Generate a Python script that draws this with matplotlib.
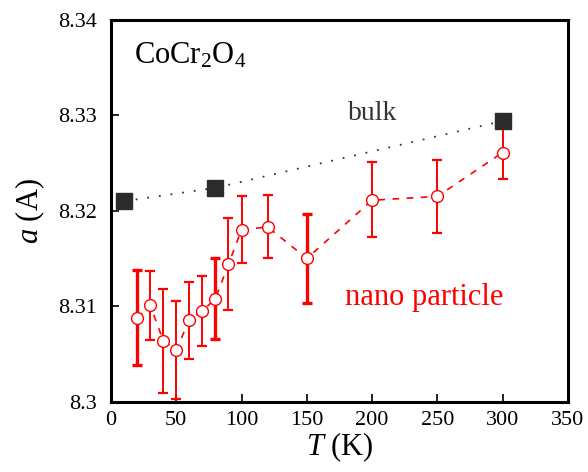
import matplotlib
matplotlib.use("Agg")
import matplotlib.pyplot as plt
import numpy as np

plt.rcParams['font.family'] = ['Liberation Serif', 'DejaVu Serif']
plt.rcParams['mathtext.fontset'] = 'custom'
plt.rcParams['mathtext.rm'] = 'Liberation Serif'
plt.rcParams['mathtext.it'] = 'Liberation Serif:italic'

# bulk data
bulk_T = [10, 80, 300]
bulk_a = [8.3210, 8.3224, 8.3294]

# nano particle data
nano_T = [20, 30, 40, 50, 60, 70, 80, 90, 100, 120, 150, 200, 250, 300]
nano_a = [8.3088, 8.3101, 8.3064, 8.3054, 8.3086, 8.3095, 8.3108, 8.3144,
          8.3180, 8.3183, 8.3150, 8.3211, 8.3215, 8.3261]
nano_err_lo = [0.0050, 0.0036, 0.0055, 0.0051, 0.0041, 0.0037, 0.0042, 0.0048,
               0.0035, 0.0032, 0.0047, 0.0039, 0.0038, 0.0028]
nano_err_hi = [0.0050, 0.0036, 0.0054, 0.0051, 0.0039, 0.0037, 0.0043, 0.0048,
               0.0035, 0.0033, 0.0047, 0.0040, 0.0038, 0.0028]
thick = [True, False, False, False, False, False, True, False,
         False, False, True, False, False, False]

xticks = [0, 50, 100, 150, 200, 250, 300, 350]
yticks = [8.30, 8.31, 8.32, 8.33, 8.34]
ytick_labels = ['8.3', '8.31', '8.32', '8.33', '8.34']

fig = plt.figure(figsize=(5.88, 4.72), dpi=100)
ax = fig.add_axes([0.1888, 0.149, 0.777, 0.809])

red = '#ff0000'
# error bars
for T, a, lo, hi, th in zip(nano_T, nano_a, nano_err_lo, nano_err_hi, thick):
    ax.errorbar([T], [a], yerr=[[lo], [hi]], fmt='none', ecolor=red,
                elinewidth=2.4 if th else 1.4, capsize=3.5,
                capthick=2.4 if th else 1.6, zorder=2)

ax.plot(nano_T, nano_a, linestyle=(0, (4, 4.5)), color=red, linewidth=1.2,
        marker='o', markersize=8.5, markerfacecolor='white',
        markeredgecolor=red, markeredgewidth=1.0, zorder=3)

ax.plot(bulk_T, bulk_a, linestyle=(0, (1, 5.5)), color='#333333', linewidth=1.3,
        marker='s', markersize=11, markerfacecolor='#2b2b2b',
        markeredgecolor='#2b2b2b', zorder=4)

ax.set_xlim(0, 350)
ax.set_ylim(8.30, 8.34)
ax.set_xticks(xticks)
ax.set_yticks(yticks)
ax.set_yticklabels(ytick_labels)
ax.tick_params(direction='in', length=6, width=1.2, labelsize=16)
ax.tick_params(axis='y', pad=10)
ax.tick_params(axis='x', pad=7)
for s in ax.spines.values():
    s.set_linewidth(2.2)

ax.set_xlabel('$T$ (K)', fontsize=22, labelpad=0)
ax.set_ylabel('$a$ (A)', fontsize=22, labelpad=8)

ax.text(17.6, 8.3354, 'CoCr$_2$O$_4$', fontsize=22, color='black')
ax.text(181.5, 8.3295, 'bulk', fontsize=20, color='#333333')
ax.text(179, 8.3101, 'nano particle', fontsize=22, color=red)

fig.savefig('out.png', dpi=100)
